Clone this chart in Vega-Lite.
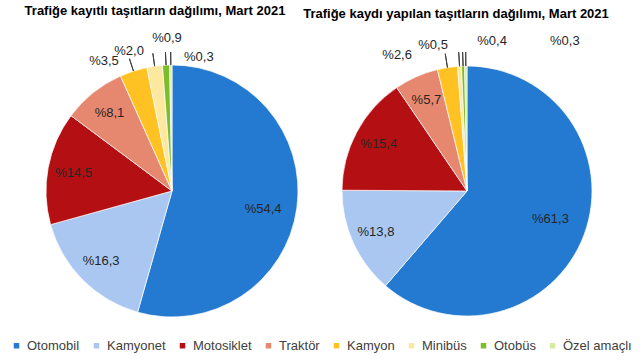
{
  "$schema": "https://vega.github.io/schema/vega-lite/v6.json",
  "background": "#ffffff",
  "padding": {"left": 10, "top": 5, "right": 5, "bottom": 5},
  "spacing": 3,
  "bounds": "flush",
  "datasets": {
    "d": [
      {"chart": "L", "cat": "Otomobil", "ord": 1, "pct": 54.4, "lbl": "%54,4"},
      {"chart": "L", "cat": "Kamyonet", "ord": 2, "pct": 16.3, "lbl": "%16,3"},
      {"chart": "L", "cat": "Motosiklet", "ord": 3, "pct": 14.5, "lbl": "%14,5"},
      {"chart": "L", "cat": "Traktör", "ord": 4, "pct": 8.1, "lbl": "%8,1"},
      {"chart": "L", "cat": "Kamyon", "ord": 5, "pct": 3.5, "lbl": "%3,5"},
      {"chart": "L", "cat": "Minibüs", "ord": 6, "pct": 2.0, "lbl": "%2,0"},
      {"chart": "L", "cat": "Otobüs", "ord": 7, "pct": 0.9, "lbl": "%0,9"},
      {"chart": "L", "cat": "Özel amaçlı", "ord": 8, "pct": 0.3, "lbl": "%0,3"},
      {"chart": "R", "cat": "Otomobil", "ord": 1, "pct": 61.3, "lbl": "%61,3"},
      {"chart": "R", "cat": "Kamyonet", "ord": 2, "pct": 13.8, "lbl": "%13,8"},
      {"chart": "R", "cat": "Motosiklet", "ord": 3, "pct": 15.4, "lbl": "%15,4"},
      {"chart": "R", "cat": "Traktör", "ord": 4, "pct": 5.7, "lbl": "%5,7"},
      {"chart": "R", "cat": "Kamyon", "ord": 5, "pct": 2.6, "lbl": "%2,6"},
      {"chart": "R", "cat": "Minibüs", "ord": 6, "pct": 0.5, "lbl": "%0,5"},
      {"chart": "R", "cat": "Otobüs", "ord": 7, "pct": 0.4, "lbl": "%0,4"},
      {"chart": "R", "cat": "Özel amaçlı", "ord": 8, "pct": 0.3, "lbl": "%0,3"}
    ]
  },
  "data": {"name": "d"},
  "resolve": {"scale": {"color": "shared"}, "legend": {"color": "shared"}},
  "config": {
    "view": {"stroke": null},
    "title": {"font": "Liberation Sans", "fontSize": 13, "fontWeight": "bold", "color": "#000000", "offset": 14, "frame": "group"},
    "text": {"font": "Liberation Sans", "fontSize": 13, "color": "#262626"},
    "legend": {
      "orient": "none", "legendX": -5, "legendY": 278, "direction": "horizontal", "columns": 8,
      "symbolType": "square", "symbolSize": 30, "symbolStrokeWidth": 0,
      "labelFontSize": 13, "labelFont": "Liberation Sans", "labelColor": "#404040",
      "columnPadding": 10, "labelOffset": 4
    }
  },
  "hconcat": [
    {
      "width": 314,
      "height": 260,
      "title": {"text": "Trafiğe kayıtlı taşıtların dağılımı, Mart 2021", "dx": -17},
      "transform": [{"filter": "datum.chart == 'L'"}],
      "layer": [
        {
          "mark": {"type": "arc", "outerRadius": 126, "stroke": "#ffffff", "strokeWidth": 0.7},
          "encoding": {
            "theta": {"field": "pct", "type": "quantitative", "stack": true, "scale": {"domain": [0, 100]}},
            "color": {
              "field": "cat", "type": "nominal",
              "sort": ["Otomobil", "Kamyonet", "Motosiklet", "Traktör", "Kamyon", "Minibüs", "Otobüs", "Özel amaçlı"],
              "scale": {
                "domain": ["Otomobil", "Kamyonet", "Motosiklet", "Traktör", "Kamyon", "Minibüs", "Otobüs", "Özel amaçlı"],
                "range": ["#2479D1", "#A9C7F0", "#B40F12", "#E6876F", "#FFC222", "#FDE8A0", "#7CBD2A", "#D6EBA0"]
              },
              "legend": {"title": null}
            },
            "order": {"field": "ord", "type": "quantitative"}
          }
        },
        {
          "mark": {"type": "text", "radius": 100},
          "encoding": {
            "theta": {"field": "pct", "type": "quantitative", "stack": true, "scale": {"domain": [0, 100]}},
            "detail": {"field": "cat", "type": "nominal"},
            "order": {"field": "ord", "type": "quantitative"},
            "text": {"condition": {"test": "datum.pct >= 5 && datum.pct < 50", "field": "lbl", "type": "nominal"}, "value": ""}
          }
        },
        {
          "mark": {"type": "text", "radius": 92, "dy": 5},
          "encoding": {
            "theta": {"field": "pct", "type": "quantitative", "stack": true, "scale": {"domain": [0, 100]}},
            "detail": {"field": "cat", "type": "nominal"},
            "order": {"field": "ord", "type": "quantitative"},
            "text": {"condition": {"test": "datum.pct >= 50", "field": "lbl", "type": "nominal"}, "value": ""}
          }
        },
        {
          "transform": [
            {"stack": "pct", "groupby": [], "sort": [{"field": "ord", "order": "ascending"}], "as": ["t0", "t1"]},
            {"filter": "datum.pct < 5"},
            {"fold": ["t0", "t1"], "as": ["k", "tv"]},
            {"aggregate": [{"op": "mean", "field": "tv", "as": "tm"}], "groupby": ["cat"]}
          ],
          "mark": {"type": "arc", "innerRadius": 126, "outerRadius": 139, "stroke": "#404040", "strokeWidth": 1, "fill": "transparent"},
          "encoding": {
            "theta": {"field": "tm", "type": "quantitative", "stack": null, "scale": {"domain": [0, 100]}},
            "theta2": {"field": "tm"}
          }
        },
        {
          "mark": {"type": "text", "radius": 126, "dx": -29.5, "dy": -10},
          "encoding": {
            "theta": {"field": "pct", "type": "quantitative", "stack": true, "scale": {"domain": [0, 100]}},
            "detail": {"field": "cat", "type": "nominal"},
            "order": {"field": "ord", "type": "quantitative"},
            "text": {"condition": {"test": "datum.cat == 'Kamyon'", "field": "lbl", "type": "nominal"}, "value": ""}
          }
        },
        {
          "mark": {"type": "text", "radius": 126, "dx": -25.6, "dy": -15.2},
          "encoding": {
            "theta": {"field": "pct", "type": "quantitative", "stack": true, "scale": {"domain": [0, 100]}},
            "detail": {"field": "cat", "type": "nominal"},
            "order": {"field": "ord", "type": "quantitative"},
            "text": {"condition": {"test": "datum.cat == 'Minibüs'", "field": "lbl", "type": "nominal"}, "value": ""}
          }
        },
        {
          "mark": {"type": "text", "radius": 126, "dx": 0.9, "dy": -27},
          "encoding": {
            "theta": {"field": "pct", "type": "quantitative", "stack": true, "scale": {"domain": [0, 100]}},
            "detail": {"field": "cat", "type": "nominal"},
            "order": {"field": "ord", "type": "quantitative"},
            "text": {"condition": {"test": "datum.cat == 'Otobüs'", "field": "lbl", "type": "nominal"}, "value": ""}
          }
        },
        {
          "mark": {"type": "text", "radius": 126, "dx": 28, "dy": -8},
          "encoding": {
            "theta": {"field": "pct", "type": "quantitative", "stack": true, "scale": {"domain": [0, 100]}},
            "detail": {"field": "cat", "type": "nominal"},
            "order": {"field": "ord", "type": "quantitative"},
            "text": {"condition": {"test": "datum.cat == 'Özel amaçlı'", "field": "lbl", "type": "nominal"}, "value": ""}
          }
        }
      ]
    },
    {
      "width": 270,
      "height": 260,
      "title": {"text": "Trafiğe kaydı yapılan taşıtların dağılımı, Mart 2021", "dx": -11},
      "transform": [{"filter": "datum.chart == 'R'"}],
      "layer": [
        {
          "mark": {"type": "arc", "outerRadius": 125, "stroke": "#ffffff", "strokeWidth": 0.7},
          "encoding": {
            "theta": {"field": "pct", "type": "quantitative", "stack": true, "scale": {"domain": [0, 100]}},
            "color": {"field": "cat", "type": "nominal",
              "sort": ["Otomobil", "Kamyonet", "Motosiklet", "Traktör", "Kamyon", "Minibüs", "Otobüs", "Özel amaçlı"],
              "legend": {"title": null}},
            "order": {"field": "ord", "type": "quantitative"}
          }
        },
        {
          "mark": {"type": "text", "radius": 100},
          "encoding": {
            "theta": {"field": "pct", "type": "quantitative", "stack": true, "scale": {"domain": [0, 100]}},
            "detail": {"field": "cat", "type": "nominal"},
            "order": {"field": "ord", "type": "quantitative"},
            "text": {"condition": {"test": "datum.pct >= 5 && datum.pct < 50", "field": "lbl", "type": "nominal"}, "value": ""}
          }
        },
        {
          "mark": {"type": "text", "radius": 89, "dy": -3},
          "encoding": {
            "theta": {"field": "pct", "type": "quantitative", "stack": true, "scale": {"domain": [0, 100]}},
            "detail": {"field": "cat", "type": "nominal"},
            "order": {"field": "ord", "type": "quantitative"},
            "text": {"condition": {"test": "datum.pct >= 50", "field": "lbl", "type": "nominal"}, "value": ""}
          }
        },
        {
          "transform": [
            {"stack": "pct", "groupby": [], "sort": [{"field": "ord", "order": "ascending"}], "as": ["t0", "t1"]},
            {"filter": "datum.pct < 5"},
            {"fold": ["t0", "t1"], "as": ["k", "tv"]},
            {"aggregate": [{"op": "mean", "field": "tv", "as": "tm"}], "groupby": ["cat"]}
          ],
          "mark": {"type": "arc", "innerRadius": 125, "outerRadius": 139, "stroke": "#404040", "strokeWidth": 1, "fill": "transparent"},
          "encoding": {
            "theta": {"field": "tm", "type": "quantitative", "stack": null, "scale": {"domain": [0, 100]}},
            "theta2": {"field": "tm"}
          }
        },
        {
          "mark": {"type": "text", "radius": 125, "dx": -50.3, "dy": -12.6},
          "encoding": {
            "theta": {"field": "pct", "type": "quantitative", "stack": true, "scale": {"domain": [0, 100]}},
            "detail": {"field": "cat", "type": "nominal"},
            "order": {"field": "ord", "type": "quantitative"},
            "text": {"condition": {"test": "datum.cat == 'Kamyon'", "field": "lbl", "type": "nominal"}, "value": ""}
          }
        },
        {
          "mark": {"type": "text", "radius": 125, "dx": -26.5, "dy": -21.2},
          "encoding": {
            "theta": {"field": "pct", "type": "quantitative", "stack": true, "scale": {"domain": [0, 100]}},
            "detail": {"field": "cat", "type": "nominal"},
            "order": {"field": "ord", "type": "quantitative"},
            "text": {"condition": {"test": "datum.cat == 'Minibüs'", "field": "lbl", "type": "nominal"}, "value": ""}
          }
        },
        {
          "mark": {"type": "text", "radius": 125, "dx": 29, "dy": -25.2},
          "encoding": {
            "theta": {"field": "pct", "type": "quantitative", "stack": true, "scale": {"domain": [0, 100]}},
            "detail": {"field": "cat", "type": "nominal"},
            "order": {"field": "ord", "type": "quantitative"},
            "text": {"condition": {"test": "datum.cat == 'Otobüs'", "field": "lbl", "type": "nominal"}, "value": ""}
          }
        },
        {
          "mark": {"type": "text", "radius": 125, "dx": 99, "dy": -25},
          "encoding": {
            "theta": {"field": "pct", "type": "quantitative", "stack": true, "scale": {"domain": [0, 100]}},
            "detail": {"field": "cat", "type": "nominal"},
            "order": {"field": "ord", "type": "quantitative"},
            "text": {"condition": {"test": "datum.cat == 'Özel amaçlı'", "field": "lbl", "type": "nominal"}, "value": ""}
          }
        }
      ]
    }
  ]
}
